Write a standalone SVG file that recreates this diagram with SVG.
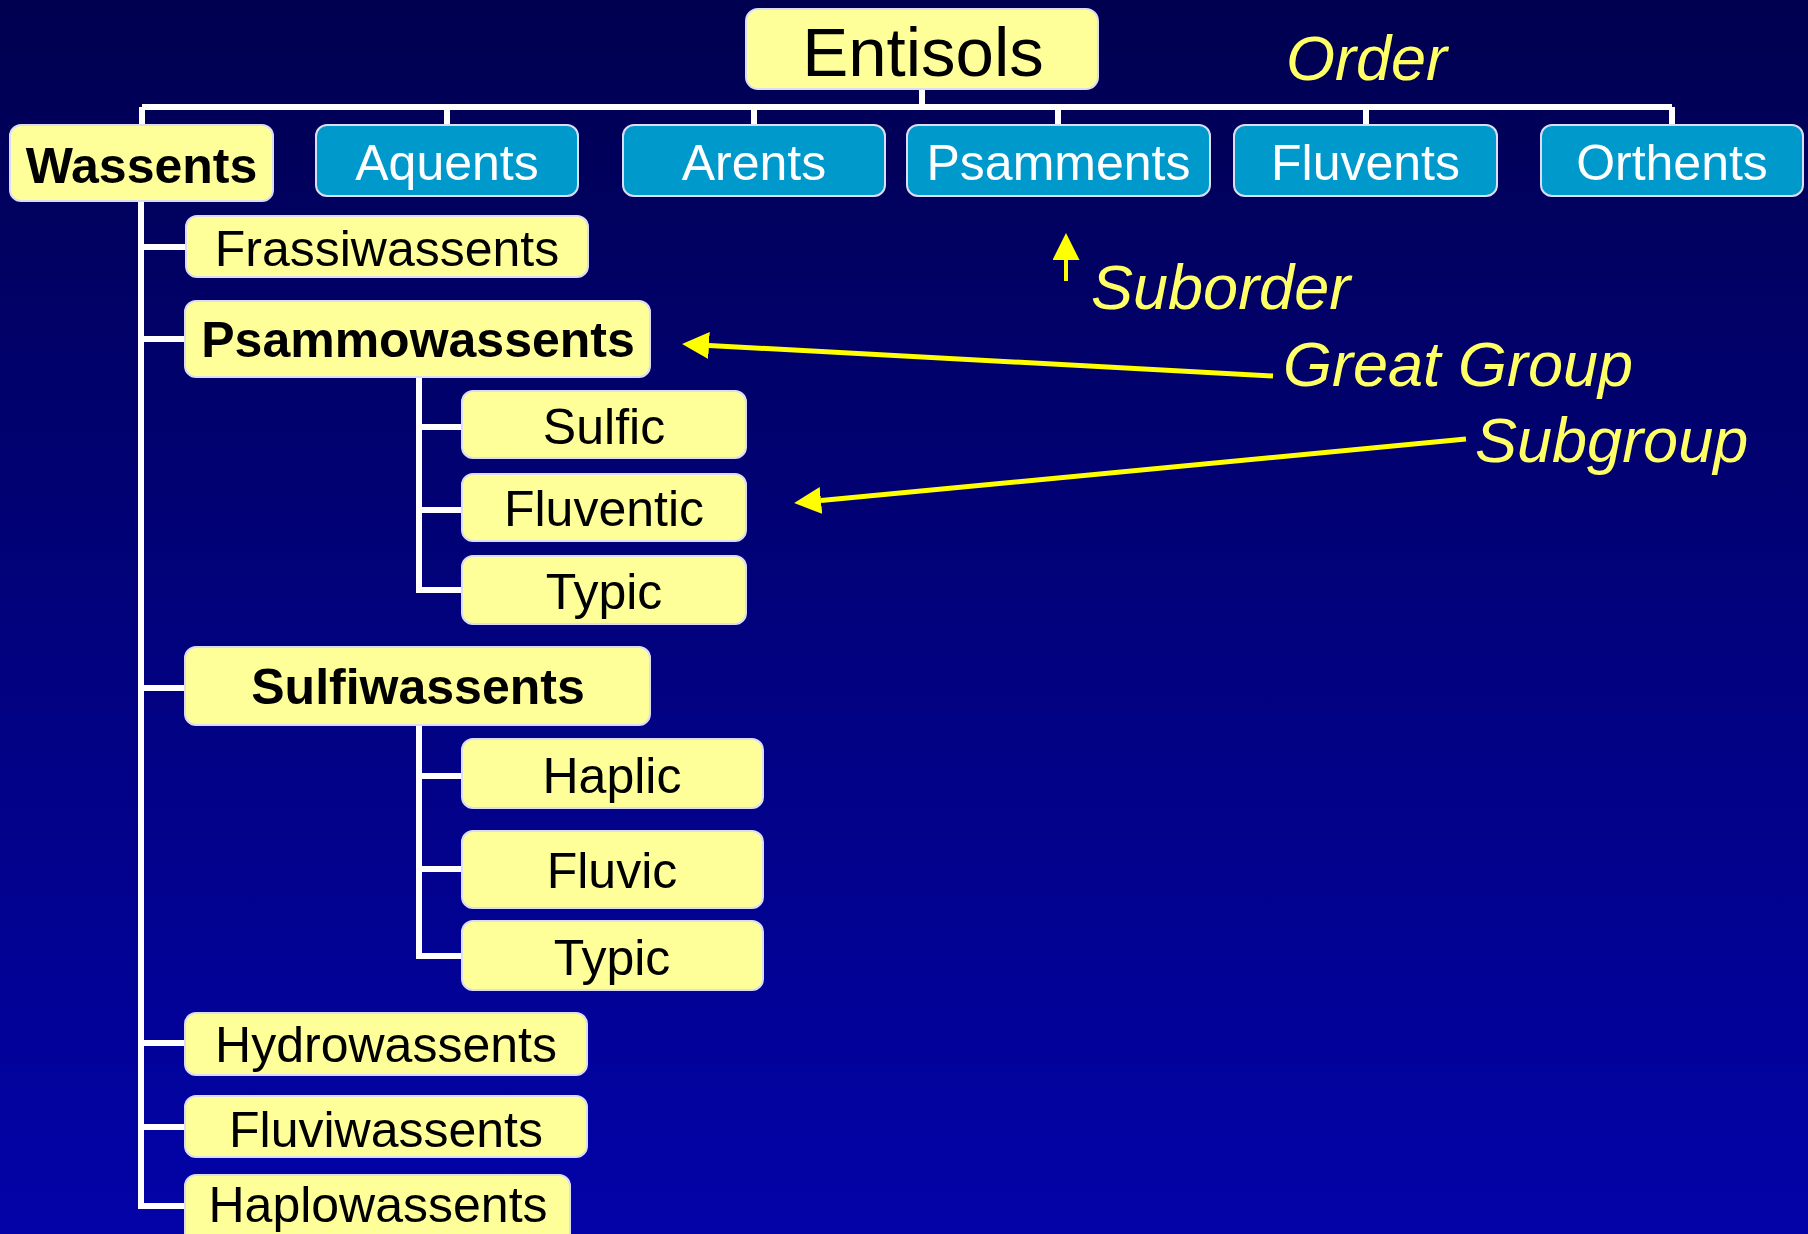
<svg xmlns="http://www.w3.org/2000/svg" width="1808" height="1234" viewBox="0 0 1808 1234">
<style>
.gbox{fill:#FFFF99;stroke:#DCDCF5;stroke-width:2}
.bbox{fill:#0099CC;stroke:#DCDCF5;stroke-width:2}
.t{font-family:"Liberation Sans",Arial,sans-serif;font-size:50px;fill:#000;text-anchor:middle}
.tb{font-weight:bold}
.tw{fill:#FFFFFF}
.lbl{font-family:"Liberation Sans",Arial,sans-serif;font-size:63px;font-style:italic;fill:#FFFF66}
.conn{stroke:#FFFFFF;stroke-width:6;fill:none}
.arr{stroke:#FFFF00;fill:none}
</style>
<defs>
<linearGradient id="bg" x1="0" y1="0" x2="0" y2="1">
<stop offset="0" stop-color="#000050"/>
<stop offset="1" stop-color="#0303A8"/>
</linearGradient>
<marker id="ah" markerUnits="userSpaceOnUse" markerWidth="27" markerHeight="27" refX="0" refY="13.5" orient="auto" viewBox="0 0 27 27">
<path d="M0,0 L27,13.5 L0,27 Z" fill="#FFFF00"/>
</marker>
</defs>
<rect x="0" y="0" width="1808" height="1234" fill="url(#bg)"/>

<g id="connectors">
<path class="conn" d="M922 89 V107 M142 107 H1672 M142 107 V125 M447 107 V125 M754 107 V125 M1058 107 V125 M1366 107 V125 M1672 107 V125"/>
<path class="conn" d="M141 201 V1206 H185 M141 247 H186 M141 339 H185 M141 688 H185 M141 1043 H185 M141 1127 H185"/>
<path class="conn" d="M419 377 V590 H462 M419 427 H462 M419 510 H462"/>
<path class="conn" d="M419 725 V956 H462 M419 776 H462 M419 869 H462"/>
</g>

<g id="arrows">
<line class="arr" stroke-width="4" x1="1066" y1="281" x2="1066" y2="260" marker-end="url(#ah)"/>
<line class="arr" stroke-width="5" x1="1273" y1="376" x2="709" y2="345.4" marker-end="url(#ah)"/>
<line class="arr" stroke-width="5" x1="1466" y1="439" x2="821" y2="500.5" marker-end="url(#ah)"/>
</g>

<g id="entisols"><rect class="gbox" x="746" y="9" width="352" height="80" rx="12"/><text class="t" x="923" y="76" style="font-size:69px">Entisols</text></g>
<g id="wassents"><rect class="gbox" x="10" y="125" width="263" height="76" rx="11"/><text class="t tb" x="141.5" y="183">Wassents</text></g>
<g id="aquents"><rect class="bbox" x="316" y="125" width="262" height="71" rx="11"/><text class="t tw" x="447" y="180">Aquents</text></g>
<g id="arents"><rect class="bbox" x="623" y="125" width="262" height="71" rx="11"/><text class="t tw" x="754" y="180">Arents</text></g>
<g id="psamments"><rect class="bbox" x="907" y="125" width="303" height="71" rx="11"/><text class="t tw" x="1058.5" y="180">Psamments</text></g>
<g id="fluvents"><rect class="bbox" x="1234" y="125" width="263" height="71" rx="11"/><text class="t tw" x="1365.5" y="180">Fluvents</text></g>
<g id="orthents"><rect class="bbox" x="1541" y="125" width="262" height="71" rx="11"/><text class="t tw" x="1672" y="180">Orthents</text></g>

<g id="frassiwassents"><rect class="gbox" x="186" y="216" width="402" height="61" rx="11"/><text class="t" x="387" y="266">Frassiwassents</text></g>
<g id="psammowassents"><rect class="gbox" x="185" y="301" width="465" height="76" rx="11"/><text class="t tb" x="418" y="357">Psammowassents</text></g>
<g id="sulfic"><rect class="gbox" x="462" y="391" width="284" height="67" rx="11"/><text class="t" x="604" y="444">Sulfic</text></g>
<g id="fluventic"><rect class="gbox" x="462" y="474" width="284" height="67" rx="11"/><text class="t" x="604" y="526">Fluventic</text></g>
<g id="typic1"><rect class="gbox" x="462" y="556" width="284" height="68" rx="11"/><text class="t" x="604" y="609">Typic</text></g>
<g id="sulfiwassents"><rect class="gbox" x="185" y="647" width="465" height="78" rx="11"/><text class="t tb" x="418" y="704">Sulfiwassents</text></g>
<g id="haplic"><rect class="gbox" x="462" y="739" width="301" height="69" rx="11"/><text class="t" x="612" y="793">Haplic</text></g>
<g id="fluvic"><rect class="gbox" x="462" y="831" width="301" height="77" rx="11"/><text class="t" x="612" y="888">Fluvic</text></g>
<g id="typic2"><rect class="gbox" x="462" y="921" width="301" height="69" rx="11"/><text class="t" x="612" y="975">Typic</text></g>
<g id="hydrowassents"><rect class="gbox" x="185" y="1013" width="402" height="62" rx="11"/><text class="t" x="386" y="1062">Hydrowassents</text></g>
<g id="fluviwassents"><rect class="gbox" x="185" y="1096" width="402" height="61" rx="11"/><text class="t" x="386" y="1147">Fluviwassents</text></g>
<g id="haplowassents"><rect class="gbox" x="185" y="1175" width="385" height="80" rx="11"/><text class="t" x="378" y="1222">Haplowassents</text></g>

<g id="labels">
<text class="lbl" x="1286" y="80">Order</text>
<text class="lbl" x="1091" y="309">Suborder</text>
<text class="lbl" x="1283" y="386">Great Group</text>
<text class="lbl" x="1475" y="462">Subgroup</text>
</g>
</svg>
